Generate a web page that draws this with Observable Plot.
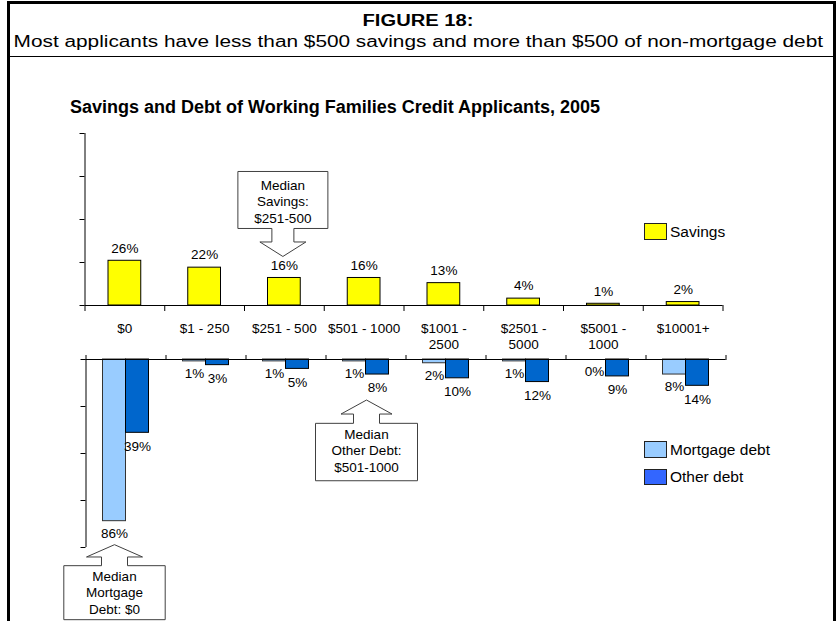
<!DOCTYPE html>
<html><head><meta charset="utf-8">
<script src="https://cdn.jsdelivr.net/npm/d3@7"></script>
<script src="https://cdn.jsdelivr.net/npm/@observablehq/plot@0.6"></script>
<style>
html,body{margin:0;padding:0;background:#fff;}
#wrap{position:relative;width:836px;height:621px;overflow:hidden;font-family:"Liberation Sans",Arial,sans-serif;color:#000;background:#fff;}
.abs{position:absolute;white-space:nowrap;}
.plotbox{position:absolute;left:0;}
.sw{position:absolute;box-sizing:border-box;border:1px solid #222;}
</style></head><body><div id="wrap"></div>
<script>
// ---- data ----
const categories = ["$0", "$1 - 250", "$251 - 500", "$501 - 1000", "$1001 -\n2500", "$2501 -\n5000", "$5001 -\n1000", "$10001+"];
const savings = [26, 22, 16, 16, 13, 4, 1, 2];
const mortgageDebt = [86, 1, 1, 1, 2, 1, 0, 8];
const otherDebt = [39, 3, 5, 8, 10, 12, 9, 14];
const yTicks = [0, 25, 50, 75, 100];
const seriesNames = ["Savings", "Mortgage debt", "Other debt"];

const rows = categories.map((c, i) => ({i, c, savings: savings[i], mortgage: mortgageDebt[i], other: otherDebt[i]}));
const W = 836;
const FONT = '"Liberation Sans", Arial, sans-serif';
const wrap = document.getElementById("wrap");

function add(html, css, cls = "abs") {
  const d = document.createElement("div");
  d.className = cls;
  Object.assign(d.style, css);
  d.innerHTML = html;
  wrap.appendChild(d);
  return d;
}

// frame
add("", {left: "7px", top: "1px", width: "829px", height: "640px", borderLeft: "3px solid #000", borderTop: "3px solid #000", borderRight: "3px solid #000", boxSizing: "border-box"});
add("", {left: "7px", top: "56px", width: "829px", height: "0", borderTop: "1px solid #000"});

// header
add('<span style="display:inline-block;transform:scaleX(1.26);font-weight:bold">FIGURE 18:</span>',
  {left: "8px", width: "820px", textAlign: "center", top: "13px", fontSize: "16px", lineHeight: "16px"});
add('<span style="display:inline-block;transform:scaleX(1.30)">Most applicants have less than $500 savings and more than $500 of non-mortgage debt</span>',
  {left: "8px", width: "820px", textAlign: "center", top: "33.5px", fontSize: "16px", lineHeight: "16px"});
add("Savings and Debt of Working Families Credit Applicants, 2005",
  {left: "70px", top: "97.5px", fontSize: "18px", lineHeight: "18px", fontWeight: "bold"});

function sc(plot, name, v) {
  const s = plot.scale(name);
  if (s && typeof s.apply === "function") return s.apply(v);
  const [d0, d1] = s.domain, [r0, r1] = s.range;
  return r0 + (v - d0) / (d1 - d0) * (r1 - r0);
}

function callout(svg, cx, tipY, dir, o, lines) {
  const {halfW, boxH, shaftHalf, headHalf, headLen, shaftLen, gap, textOffset = 0} = o;
  const headBase = tipY - dir * headLen;
  const boxEdge = headBase - dir * shaftLen;
  const farEdge = boxEdge - dir * boxH;
  const pts = [[cx - halfW, farEdge], [cx + halfW, farEdge], [cx + halfW, boxEdge], [cx + shaftHalf, boxEdge],
    [cx + shaftHalf, headBase], [cx + headHalf, headBase], [cx, tipY], [cx - headHalf, headBase],
    [cx - shaftHalf, headBase], [cx - shaftHalf, boxEdge], [cx - halfW, boxEdge]];
  const g = d3.select(svg).append("g");
  g.append("path").attr("d", "M" + pts.map(p => p.join(",")).join("L") + "Z")
    .attr("fill", "#fff").attr("stroke", "#404040").attr("stroke-width", 1);
  const cy = (boxEdge + farEdge) / 2 + textOffset;
  lines.forEach((t, k) => g.append("text").attr("x", cx).attr("y", cy + (k - (lines.length - 1) / 2) * gap)
    .attr("dy", "0.35em").attr("text-anchor", "middle").attr("font-size", 13.5).attr("fill", "#000").text(t));
}

const style = {background: "transparent", fontFamily: FONT, fontSize: "13.5px", color: "#000", overflow: "visible"};

// ---- top: savings ----
const topPlot = Plot.plot({
  width: W, height: 240, marginTop: 13, marginBottom: 55, marginLeft: 84.5, marginRight: W - 722.5,
  x: {domain: [0, categories.length], label: null},
  y: {domain: [0, 100], label: null},
  style,
  marks: [
    Plot.rect(rows, {x1: d => d.i, x2: d => d.i + 1, y1: 0, y2: "savings", insetLeft: 23.5, insetRight: 23.5, fill: "#FFFF00", stroke: "#000", strokeWidth: 1}),
    Plot.text(rows, {x: d => d.i + 0.5, y: "savings", text: d => d.savings + "%", dy: -12.5, fontSize: 13.5, fill: "#000"}),
    Plot.ruleX([0], {stroke: "#000"}),
    Plot.ruleY([0], {stroke: "#000"}),
    Plot.axisY({ticks: yTicks, tickSize: 5, tickFormat: () => ""}),
    Plot.axisX({ticks: d3.range(categories.length + 1), tickSize: 6, tickFormat: () => ""}),
    Plot.axisX({ticks: d3.range(categories.length).map(i => i + 0.5), tickSize: 0, tickPadding: 16,
      tickFormat: d => categories[Math.floor(d)], lineHeight: 1.2, fontSize: 13.5})
  ]
});
const topBox = add("", {top: "120px"}, "plotbox");
topBox.appendChild(topPlot);
callout(topPlot, sc(topPlot, "x", 2.5) - 1, sc(topPlot, "y", savings[2]) - 21, 1,
  {halfW: 45, boxH: 57, shaftHalf: 11, headHalf: 23, headLen: 14.5, shaftLen: 13.5, gap: 16.5, textOffset: 1.5},
  ["Median", "Savings:", "$251-500"]);

// ---- bottom: debt ----
const botPlot = Plot.plot({
  width: W, height: 276, marginTop: 14, marginBottom: 74, marginLeft: 85.5, marginRight: W - 725.5,
  x: {domain: [0, categories.length], label: null},
  y: {domain: [0, 100], reverse: true, label: null},
  style,
  marks: [
    Plot.rect(rows, {x1: d => d.i, x2: d => d.i + 0.5, y1: 0, y2: "mortgage", insetLeft: 17, fill: "#99CCFF", stroke: "#333", strokeWidth: 1}),
    Plot.rect(rows, {x1: d => d.i + 0.5, x2: d => d.i + 1, y1: 0, y2: "other", insetRight: 17, fill: "#0066CC", stroke: "#000", strokeWidth: 1}),
    Plot.text(rows, {x: d => d.i + 0.5, y: "mortgage", dx: -11.5, dy: 12.5, text: d => d.mortgage + "%", fontSize: 13.5, fill: "#000"}),
    Plot.text(rows, {x: d => d.i + 0.5, y: "other", dx: 11.5, dy: 13.5, text: d => d.other + "%", fontSize: 13.5, fill: "#000"}),
    Plot.ruleX([0], {stroke: "#000"}),
    Plot.ruleY([0], {stroke: "#000"}),
    Plot.axisY({ticks: yTicks, tickSize: 5, tickFormat: () => ""}),
    Plot.axisX({anchor: "top", ticks: d3.range(categories.length + 1), tickSize: 5, tickFormat: () => ""})
  ]
});
const botBox = add("", {top: "345px"}, "plotbox");
botBox.appendChild(botPlot);
callout(botPlot, sc(botPlot, "x", 3.5) + 1, sc(botPlot, "y", otherDebt[3]) + 26, -1,
  {halfW: 51, boxH: 57.4, shaftHalf: 13, headHalf: 25.5, headLen: 14, shaftLen: 9.3, gap: 16.6, textOffset: -1.3},
  ["Median", "Other Debt:", "$501-1000"]);
callout(botPlot, sc(botPlot, "x", 0.5) - 11, sc(botPlot, "y", mortgageDebt[0]) + 24, -1,
  {halfW: 50.7, boxH: 54, shaftHalf: 13, headHalf: 28, headLen: 12.3, shaftLen: 8.7, gap: 16.3, textOffset: 0},
  ["Median", "Mortgage", "Debt: $0"]);

// ---- legends ----
const legendColors = ["#FFFF00", "#99CCFF", "#3366FF"];
const legendPos = [[223, 17, 232], [441, 17, 449.5], [469, 16, 477]];
seriesNames.forEach((name, k) => {
  const [t, h, cy] = legendPos[k];
  add("", {left: "644px", top: t + "px", width: "23px", height: h + "px", background: legendColors[k]}, "sw");
  add(name, {left: "670px", top: (cy - 7.6) + "px", fontSize: "15.5px", lineHeight: "15.5px"});
});
</script></body></html>
